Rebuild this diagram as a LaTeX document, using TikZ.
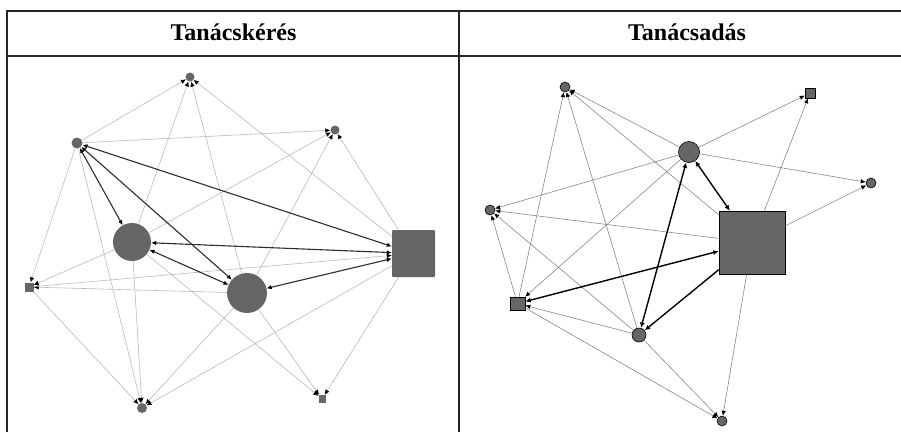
\documentclass[tikz,border=0pt]{standalone}
\usepackage{fontspec}
\usepackage{tikz}
\usetikzlibrary{arrows.meta}
\setmainfont{Liberation Serif}
\definecolor{nodegray}{RGB}{102,102,102}
\definecolor{weakgray}{RGB}{185,185,185}
\definecolor{midgray}{RGB}{135,135,135}
\definecolor{darkline}{RGB}{45,45,45}
\tikzstyle{rule} = [black!85, line width=1.3pt]
\tikzstyle{head} = [anchor=base, inner sep=0pt, font=\fontsize{24}{24}\selectfont\bfseries]
\tikzstyle{dot} = [circle, fill=nodegray, inner sep=0pt]
\tikzstyle{box} = [rectangle, fill=nodegray, inner sep=0pt]
\tikzstyle{rim} = [draw=black, line width=0.6pt]
\tikzstyle{weak} = [weakgray, line width=0.6pt, -{Latex[length=5pt,width=4.5pt,color=black]}]
\tikzstyle{strong} = [darkline, line width=1.1pt, {Latex[length=5pt,width=4.5pt,color=black]}-{Latex[length=5pt,width=4.5pt,color=black]}]
\tikzstyle{weaker} = [midgray, line width=0.6pt, -{Latex[length=5pt,width=4.5pt,color=black]}]
\tikzstyle{stronger} = [black, line width=1.4pt, {Latex[length=5.5pt,width=5pt]}-{Latex[length=5.5pt,width=5pt]}]

\begin{document}
\begin{tikzpicture}[x=1pt,y=-1pt]
  \useasboundingbox (0,0) rectangle (901,432);
  % table frame
  \draw [rule] (7,432) -- (7,11) -- (901,11);
  \draw [rule] (7,56) -- (901,56);
  \draw [rule] (459,11) -- (459,432);
  \node (kerhead) [head] at (233.5,40) {Tanácskérés};
  \node (adhead) [head] at (687,40) {Tanácsadás};

  % Tanácskérés
  \node (k1) [dot, minimum size=9pt] at (190,77) {};
  \node (k2) [dot, minimum size=11pt] at (77,143) {};
  \node (k3) [dot, minimum size=9pt] at (335,130) {};
  \node (k4) [dot, minimum size=38pt] at (132,242) {};
  \node (k5) [dot, minimum size=40pt] at (247,293) {};
  \node (k6) [box, rounded corners=1pt, minimum width=43pt, minimum height=47pt] at (413.5,253.5) {};
  \node (k7) [box, minimum size=9pt] at (29,287) {};
  \node (k8) [dot, minimum size=10pt] at (142,408) {};
  \node (k9) [box, minimum width=7pt, minimum height=8pt] at (322,399) {};

  \draw [weak] (k2) -- (k1);
  \draw [weak] (k4) -- (k1);
  \draw [weak] (k5) -- (k1);
  \draw [weak] (k6) -- (k1);
  \draw [weak] (k2) -- (k3);
  \draw [weak] (k4) -- (k3);
  \draw [weak] (k5) -- (k3);
  \draw [weak] (k6) -- (k3);
  \draw [weak] (k2) -- (k7);
  \draw [weak] (k4) -- (k7);
  \draw [weak] (k5) -- (k7);
  \draw [weak] (k7) -- (k6);
  \draw [weak] (k2) -- (k8);
  \draw [weak] (k7) -- (k8);
  \draw [weak] (k4) -- (k8);
  \draw [weak] (k5) -- (k8);
  \draw [weak] (k6) -- (k8);
  \draw [weak] (k4) -- (k9);
  \draw [weak] (k5) -- (k9);
  \draw [weak] (k6) -- (k9);
  \draw [strong] (k2) -- (k4);
  \draw [strong] (k2) -- (k5);
  \draw [strong] (k2) -- (k6);
  \draw [strong] (k4) -- (k5);
  \draw [strong] (k4) -- (k6);
  \draw [strong] (k5) -- (k6);

  % Tanácsadás
  \node (a1) [dot, rim, minimum size=10pt] at (565,87) {};
  \node (a2) [box, rim, minimum size=10pt] at (810,93) {};
  \node (a3) [dot, rim, minimum size=21pt] at (689,152) {};
  \node (a4) [dot, rim, minimum size=10pt] at (871,183) {};
  \node (a5) [dot, rim, minimum size=10pt] at (490,210) {};
  \node (a6) [box, rim, minimum width=66pt, minimum height=63pt] at (752,242.5) {};
  \node (a7) [box, rim, minimum width=15pt, minimum height=13pt] at (517.5,303.5) {};
  \node (a8) [dot, rim, minimum size=14pt] at (639,335) {};
  \node (a9) [dot, rim, minimum size=10pt] at (722,421) {};

  \draw [weaker] (a3) -- (a1);
  \draw [weaker] (a6) -- (a1);
  \draw [weaker] (a7) -- (a1);
  \draw [weaker] (a8) -- (a1);
  \draw [weaker] (a3) -- (a2);
  \draw [weaker] (a6) -- (a2);
  \draw [weaker] (a3) -- (a4);
  \draw [weaker] (a6) -- (a4);
  \draw [weaker] (a3) -- (a5);
  \draw [weaker] (a6) -- (a5);
  \draw [weaker] (a7) -- (a5);
  \draw [weaker] (a8) -- (a5);
  \draw [weaker] (a3) -- (a7);
  \draw [weaker] (a8) -- (a7);
  \draw [weaker] (a7) -- (a9);
  \draw [weaker] (a8) -- (a9);
  \draw [weaker] (a6) -- (a9);
  \draw [stronger] (a3) -- (a6);
  \draw [stronger] (a3) -- (a8);
  \draw [stronger] (a6) -- (a7);
  \draw [stronger, -{Latex[length=5.5pt,width=5pt]}] (a6) -- (a8);
\end{tikzpicture}
\end{document}
